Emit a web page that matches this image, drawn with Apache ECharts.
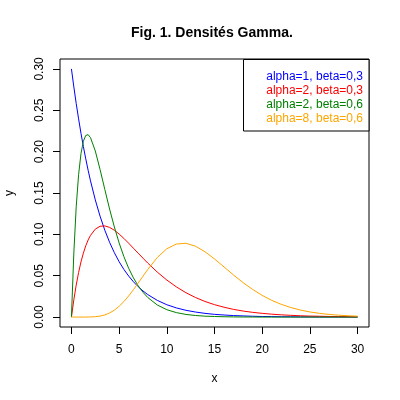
<!DOCTYPE html>
<html>
<head>
<meta charset="utf-8">
<script src="https://cdn.jsdelivr.net/npm/echarts@6/dist/echarts.min.js"></script>
<style>
  html, body { margin: 0; padding: 0; background: #fff; }
  #chart { width: 400px; height: 400px; }
</style>
</head>
<body>
<div id="chart"></div>
<script>
'use strict';

// x grid shared by the four densities
const xs = [0, 0.25, 0.5, 0.75, 1, 1.25, 1.5, 1.75, 2, 2.5, 3, 3.5, 4, 4.5, 5, 5.5, 6, 6.5, 7, 7.5, 8,
  9, 10, 11, 12, 13, 14, 15, 16, 17, 18, 19, 20, 21, 22, 23, 24, 25, 26, 27, 28, 29, 30];

// alpha=1, beta=0,3
const blue = [0.3000, 0.2783, 0.2582, 0.2396, 0.2222, 0.2062, 0.1913, 0.1775, 0.1646, 0.1417, 0.1220,
  0.1050, 0.0904, 0.0778, 0.0669, 0.0576, 0.0496, 0.0427, 0.0367, 0.0316, 0.0272,
  0.0202, 0.0149, 0.0111, 0.0082, 0.0061, 0.0045, 0.0033, 0.0025, 0.0018, 0.0014, 0.0010,
  0.0007, 0.0006, 0.0004, 0.0003, 0.0002, 0.0002, 0.0001, 0.0001, 0.0001, 0.0001, 0.0000];

// alpha=2, beta=0,3
const red = [0, 0.0209, 0.0387, 0.0539, 0.0667, 0.0773, 0.0861, 0.0932, 0.0988, 0.1063, 0.1098,
  0.1102, 0.1084, 0.1050, 0.1004, 0.0951, 0.0893, 0.0832, 0.0772, 0.0712, 0.0653,
  0.0544, 0.0448, 0.0365, 0.0295, 0.0237, 0.0189, 0.0150, 0.0119, 0.0093, 0.0073, 0.0057,
  0.0045, 0.0035, 0.0027, 0.0021, 0.0016, 0.0012, 0.0010, 0.0007, 0.0006, 0.0004, 0.0003];

// alpha=2, beta=0,6
const green = [0, 0.0775, 0.1334, 0.1722, 0.1976, 0.2126, 0.2196, 0.2205, 0.2169, 0.2008, 0.1785,
  0.1543, 0.1306, 0.1089, 0.0896, 0.0730, 0.0590, 0.0474, 0.0378, 0.0300, 0.0237,
  0.0146, 0.0089, 0.0054, 0.0032, 0.0019, 0.0011, 0.0007, 0.0004, 0.0002, 0.0001, 0.0001,
  0, 0, 0, 0, 0, 0, 0, 0, 0, 0, 0];

// alpha=8, beta=0,6
const orange = [0, 0, 0, 0, 0, 0, 0, 0.0001, 0.0001, 0.0005, 0.0012,
  0.0026, 0.0050, 0.0084, 0.0130, 0.0187, 0.0255, 0.0331, 0.0412, 0.0494, 0.0575,
  0.0720, 0.0826, 0.0883, 0.0892, 0.0857, 0.0790, 0.0703, 0.0606, 0.0508, 0.0416, 0.0334,
  0.0262, 0.0202, 0.0154, 0.0115, 0.0085, 0.0062, 0.0045, 0.0032, 0.0023, 0.0016, 0.0011];

const seriesNames = ['alpha=1, beta=0,3', 'alpha=2, beta=0,3', 'alpha=2, beta=0,6', 'alpha=8, beta=0,6'];
const seriesColors = ['#0000ff', '#ff0000', '#008000', '#ffa500'];
const xTicks = [0, 5, 10, 15, 20, 25, 30];
const yTicks = [0, 0.05, 0.1, 0.15, 0.2, 0.25, 0.3];

const font = 'Liberation Sans, Arial, sans-serif';
const chart = echarts.init(document.getElementById('chart'));

const series = [blue, red, green, orange].map((ys, i) => ({
  name: seriesNames[i],
  type: 'line',
  data: xs.map((x, j) => [x, ys[j]]),
  showSymbol: false,
  symbol: 'none',
  lineStyle: { color: seriesColors[i], width: 1 },
  itemStyle: { color: seriesColors[i] },
  emphasis: { disabled: true }
}));

chart.setOption({
  animation: false,
  backgroundColor: '#fff',
  textStyle: { fontFamily: font },
  title: {
    text: 'Fig. 1. Densités Gamma.',
    left: 126,
    top: 21,
    textStyle: { fontSize: 14, fontWeight: 'bold', color: '#000', fontFamily: font }
  },
  legend: {
    orient: 'vertical',
    right: 27,
    top: 66,
    z: 20,
    itemWidth: 0,
    itemHeight: 10,
    itemGap: 2,
    icon: 'rect',
    selectedMode: false,
    align: 'right',
    textStyle: { fontSize: 12, fontFamily: font },
    data: seriesNames.map((n, i) => ({ name: n, textStyle: { color: seriesColors[i] } }))
  },
  graphic: [{
    type: 'rect',
    shape: { x: 243.5, y: 59.5, width: 125.5, height: 71.5 },
    style: { fill: '#fff', stroke: '#000', lineWidth: 1 },
    z: 3
  }],
  grid: {
    left: 60, right: 31, top: 59, bottom: 73,
    containLabel: false,
    outerBoundsMode: 'none',
    show: true, borderColor: '#000', borderWidth: 1, backgroundColor: 'transparent'
  },
  xAxis: {
    type: 'value',
    min: -1.2,
    max: 31.2,
    name: 'x',
    nameLocation: 'middle',
    nameGap: 46,
    nameTextStyle: { fontSize: 12, color: '#000', fontFamily: font },
    axisLine: { show: false, onZero: false },
    axisTick: { show: true, customValues: xTicks, length: 7, lineStyle: { color: '#000' } },
    axisLabel: { customValues: xTicks, margin: 17, fontSize: 12, color: '#000', fontFamily: font },
    splitLine: { show: false }
  },
  yAxis: {
    type: 'value',
    min: -0.012,
    max: 0.312,
    name: 'y',
    nameLocation: 'middle',
    nameGap: 44,
    nameTextStyle: { fontSize: 12, color: '#000', fontFamily: font },
    axisLine: { show: false, onZero: false },
    axisTick: { show: true, customValues: yTicks, length: 7, lineStyle: { color: '#000' } },
    axisLabel: {
      customValues: yTicks,
      rotate: 90,
      margin: 14,
      fontSize: 12,
      color: '#000',
      fontFamily: font,
      formatter: v => v.toFixed(2)
    },
    splitLine: { show: false }
  },
  series: series
});
</script>
</body>
</html>
